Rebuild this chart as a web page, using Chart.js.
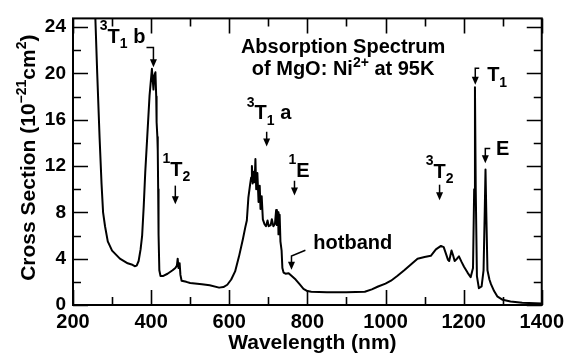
<!DOCTYPE html>
<html>
<head>
<meta charset="utf-8">
<script src="https://cdn.jsdelivr.net/npm/chart.js@4.4.1/dist/chart.umd.min.js"></script>
<style>
html, body { margin: 0; padding: 0; background: #fff; }
canvas { display: block; }
</style>
</head>
<body>
<canvas id="spectrum" width="569" height="354"></canvas>
<script>
// absorption spectrum of MgO:Ni2+ at 95K
const wavelength = [
    256, 262, 268, 273, 277, 282, 289, 300, 320, 340, 350, 358, 363, 368, 373, 377, 381, 385, 390, 396,
    402, 404, 406, 408, 411, 413, 414, 416, 417, 418, 419, 421, 424, 430, 442, 455, 462, 466, 468, 470,
    473, 475, 478, 490, 500, 530, 550, 574, 585, 595, 605, 615, 625, 635, 641, 645, 649, 653, 656, 658,
    660, 663, 665, 667, 669, 672, 675, 678, 680, 683, 686, 690, 694, 698, 701, 706, 709, 713, 717, 720,
    722, 725, 726, 729, 731, 734, 736, 739, 744, 752, 760, 770, 780, 790, 800, 810, 850, 900, 947, 965,
    981, 1000, 1014, 1030, 1048, 1065, 1082, 1100, 1116, 1129, 1142, 1149, 1154, 1160, 1163, 1169, 1173, 1177, 1183, 1188,
    1195, 1201, 1210, 1218, 1224, 1227, 1229, 1231, 1234, 1239, 1246, 1251, 1254, 1256, 1258, 1261, 1266, 1270, 1278, 1286,
    1300, 1320, 1350, 1400
];
const crossSection = [
    26, 20, 14.5, 10.5, 8.0, 6.8, 5.5, 4.7, 4.0, 3.6, 3.5, 3.35, 3.4, 3.8, 4.8, 6.0, 8.5, 11.5, 14.5, 18.1,
    20.4, 19.5, 18.6, 19.8, 20.1, 18.0, 15.8, 14.5, 13.3, 10.0, 6.1, 3.0, 2.5, 2.5, 2.7, 3.0, 3.2, 3.4, 4.0, 3.2,
    3.6, 2.6, 2.1, 2.0, 1.9, 1.8, 1.7, 1.5, 1.55, 1.75, 2.2, 2.9, 4.2, 5.7, 6.7, 7.3, 9.3, 10.3, 11.0, 12.0,
    10.5, 11.5, 10.6, 12.6, 10.0, 11.4, 8.9, 10.3, 8.3, 9.4, 7.4, 7.0, 6.8, 7.3, 6.8, 6.9, 7.4, 6.8, 7.0, 8.2,
    6.9, 8.0, 6.1, 7.8, 5.5, 4.7, 3.2, 2.8, 2.7, 2.75, 2.5, 2.2, 1.8, 1.4, 1.2, 1.15, 1.1, 1.1, 1.15, 1.35,
    1.6, 1.85, 2.1, 2.5, 3.0, 3.5, 4.0, 4.15, 4.25, 4.8, 5.1, 5.0, 4.5, 3.9, 3.8, 4.7, 4.3, 3.8, 4.0, 4.2,
    3.7, 3.3, 2.8, 2.4, 3.2, 10.0, 18.8, 10.0, 2.5, 1.45, 1.6, 3.0, 8.0, 11.7, 8.0, 3.0, 2.2, 1.8, 1.2, 0.75,
    0.45, 0.3, 0.2, 0.12
];

const xTickLabels = [200, 400, 600, 800, 1000, 1200, 1400];
const yTickLabels = [0, 4, 8, 12, 16, 20, 24];

const FONT = '"Liberation Sans", Arial, Helvetica, sans-serif';

// labels on the plot, placed in data units (nm, 10^-21 cm^2)
// parts: [text, kind]; kind '' normal, 'sup' high superscript, 'exp' low superscript, 'sub' subscript
const annotations = [
    { at: [268.6, 22.65], parts: [['3', 'sup'], ['T', ''], ['1', 'sub'], [' b', '']] },
    { at: [891.5, 21.8], align: 'center', parts: [['Absorption Spectrum', '']] },
    { at: [891.5, 19.86], align: 'center', parts: [['of MgO: Ni', ''], ['2+', 'exp'], [' at 95K', '']] },
    { at: [644.9, 16.06], parts: [['3', 'sup'], ['T', ''], ['1', 'sub'], [' a', '']] },
    { at: [428.8, 11.15], parts: [['1', 'sup'], ['T', ''], ['2', 'sub']] },
    { at: [751.7, 11.07], parts: [['1', 'sup'], ['E', '']] },
    { at: [815.3, 4.82], parts: [['hotband', '']] },
    { at: [1102.8, 10.99], parts: [['3', 'sup'], ['T', ''], ['2', 'sub']] },
    { at: [1260.2, 19.35], parts: [['T', ''], ['1', 'sub']] },
    { at: [1283.1, 12.93], parts: [['E', '']] }
];

// arrow paths, last point is the tip
const arrows = [
    [[388.1, 22.23], [405.9, 22.23], [405.9, 20.54]],
    [[695.8, 14.96], [695.8, 13.69]],
    [[461.9, 10.31], [461.9, 8.70]],
    [[767.0, 10.73], [767.0, 9.46]],
    [[794.9, 4.73], [759.3, 4.23], [759.3, 3.04]],
    [[1138.4, 10.39], [1138.4, 9.04]],
    [[1240.0, 20.45], [1229.8, 20.45], [1229.8, 19.01]],
    [[1268.2, 13.52], [1255.5, 13.52], [1255.5, 12.25]]
];

const raise = { '': 0, sup: -0.62, exp: -0.42, sub: 0.28 };

function partFont(kind, size) {
    const s = kind ? Math.round(size * 0.68) : size;
    return `bold ${s}px ${FONT}`;
}

function richWidth(ctx, parts, size) {
    let w = 0;
    for (const [t, kind] of parts) {
        ctx.font = partFont(kind, size);
        w += ctx.measureText(t).width;
    }
    return w;
}

function drawRich(ctx, parts, x, y, size, align) {
    let cx = align === 'center' ? x - richWidth(ctx, parts, size) / 2 : x;
    ctx.textAlign = 'left';
    ctx.textBaseline = 'alphabetic';
    for (const [t, kind] of parts) {
        ctx.font = partFont(kind, size);
        ctx.fillText(t, cx, y + raise[kind] * size);
        cx += ctx.measureText(t).width;
    }
}

const framePlugin = {
    id: 'frame',
    afterDraw(chart) {
        const { ctx, chartArea: a, scales: { x, y } } = chart;
        ctx.save();
        ctx.strokeStyle = '#000';
        ctx.fillStyle = '#000';

        // inward tick marks on all four sides
        ctx.lineWidth = 1.6;
        ctx.beginPath();
        for (let v = 200; v <= 1400; v += 100) {
            const px = Math.round(x.getPixelForValue(v)) + 0.5;
            const len = xTickLabels.includes(v) ? 15 : 8;
            ctx.moveTo(px, a.bottom); ctx.lineTo(px, a.bottom - len);
            ctx.moveTo(px, a.top); ctx.lineTo(px, a.top + len);
        }
        for (let v = 0; v <= 24; v += 2) {
            const py = Math.round(y.getPixelForValue(v)) + 0.5;
            const len = yTickLabels.includes(v) ? 15 : 8;
            ctx.moveTo(a.left, py); ctx.lineTo(a.left + len, py);
            ctx.moveTo(a.right, py); ctx.lineTo(a.right - len, py);
        }
        ctx.stroke();

        ctx.lineWidth = 2;
        ctx.strokeRect(a.left, a.top, a.right - a.left, a.bottom - a.top);

        // axis titles
        drawRich(ctx, [['Wavelength (nm)', '']], (a.left + a.right) / 2 + 5, 349, 21, 'center');
        ctx.save();
        ctx.translate(35, (a.top + a.bottom) / 2 - 4);
        ctx.rotate(-Math.PI / 2);
        drawRich(ctx, [['Cross Section (10', ''], ['\u221221', 'exp'], ['cm', ''], ['2', 'exp'], [')', '']], 0, 0, 21, 'center');
        ctx.restore();

        // state labels
        for (const an of annotations) {
            drawRich(ctx, an.parts, x.getPixelForValue(an.at[0]), y.getPixelForValue(an.at[1]), 20, an.align);
        }

        // arrows
        ctx.lineWidth = 1.5;
        for (const path of arrows) {
            const pts = path.map(p => [x.getPixelForValue(p[0]), y.getPixelForValue(p[1])]);
            const tip = pts[pts.length - 1];
            const prev = pts[pts.length - 2];
            const ang = Math.atan2(tip[1] - prev[1], tip[0] - prev[0]);
            ctx.beginPath();
            ctx.moveTo(pts[0][0], pts[0][1]);
            for (let i = 1; i < pts.length - 1; i++) ctx.lineTo(pts[i][0], pts[i][1]);
            ctx.lineTo(tip[0] - Math.cos(ang) * 5, tip[1] - Math.sin(ang) * 5);
            ctx.stroke();
            ctx.beginPath();
            ctx.moveTo(tip[0], tip[1]);
            ctx.lineTo(tip[0] - Math.cos(ang) * 8 - Math.sin(ang) * 3.5, tip[1] - Math.sin(ang) * 8 + Math.cos(ang) * 3.5);
            ctx.lineTo(tip[0] - Math.cos(ang) * 8 + Math.sin(ang) * 3.5, tip[1] - Math.sin(ang) * 8 - Math.cos(ang) * 3.5);
            ctx.closePath();
            ctx.fill();
        }
        ctx.restore();
    }
};

new Chart(document.getElementById('spectrum'), {
    type: 'line',
    data: {
        datasets: [{
            data: wavelength.map((w, i) => ({ x: w, y: crossSection[i] })),
            borderColor: '#000',
            borderWidth: 2,
            borderJoinStyle: 'round',
            pointRadius: 0,
            tension: 0,
            fill: false
        }]
    },
    options: {
        responsive: false,
        animation: false,
        devicePixelRatio: 1,
        layout: { padding: { top: 12, right: 24, left: 0, bottom: 0 } },
        plugins: { legend: { display: false }, tooltip: { enabled: false } },
        scales: {
            x: {
                type: 'linear',
                min: 200,
                max: 1400,
                grid: { display: false, drawTicks: false },
                border: { display: false },
                ticks: {
                    stepSize: 100,
                    autoSkip: false,
                    maxRotation: 0,
                    padding: 5,
                    color: '#000',
                    font: { family: FONT, size: 20, weight: 'bold' },
                    callback: v => xTickLabels.includes(v) ? String(v) : ''
                },
                afterFit: s => { s.height = 49; }
            },
            y: {
                min: 0,
                max: 24.75,
                grid: { display: false, drawTicks: false },
                border: { display: false },
                ticks: {
                    stepSize: 2,
                    includeBounds: false,
                    padding: 7,
                    color: '#000',
                    font: { family: FONT, size: 19, weight: 'bold' },
                    callback: v => yTickLabels.includes(v) ? String(v) : ''
                },
                afterFit: s => { s.width = 73; }
            }
        }
    },
    plugins: [framePlugin]
});
</script>
</body>
</html>
